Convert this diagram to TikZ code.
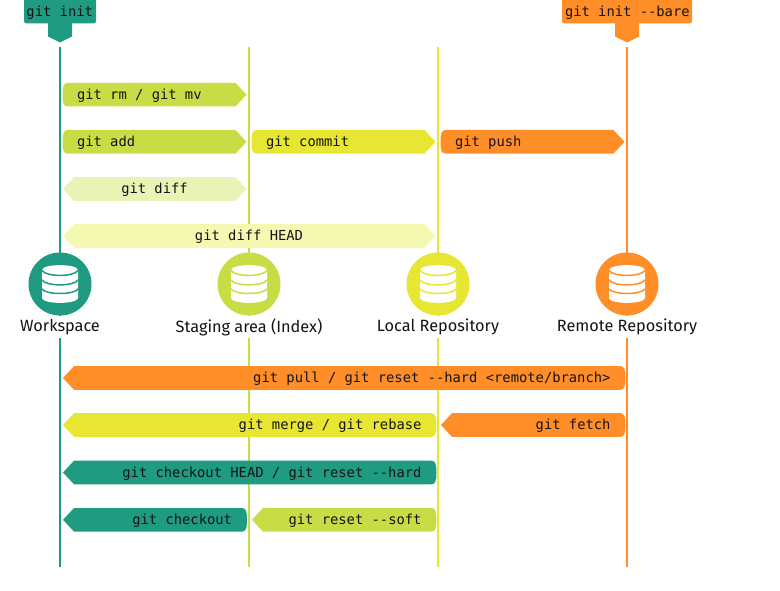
\documentclass[tikz,border=0pt]{standalone}
\usepackage{fontspec}
\setmainfont{Fira Sans}
\setmonofont{DejaVu Sans Mono}
\definecolor{cteal}{HTML}{1F9B82}
\definecolor{clime}{HTML}{C8DC45}
\definecolor{cyel}{HTML}{E6E633}
\definecolor{corg}{HTML}{FF8E29}
\definecolor{cpale}{HTML}{EAF3B6}
\definecolor{cpaler}{HTML}{F5F8B0}
\definecolor{ctxt}{HTML}{141414}
\tikzset{
  x=1pt,y=-1pt,
  lifeline/.style={line width=2.6pt},
  cmdtext/.style={font=\ttfamily\fontsize{13.8}{14}\selectfont,text=ctxt,inner sep=0pt,outer sep=0pt},
  storelabel/.style={font=\fontsize{16.3}{17}\selectfont,text=ctxt,fill=white,inner xsep=3pt,minimum height=22pt,inner ysep=0pt},
  storecircle/.style={circle,minimum size=63pt,inner sep=0pt},
}
% #1 left x, #2 right x, #3 centre y, #4 colour
\newcommand{\barRR}[4]{\fill[#4] (#1+5,#3-11.8) -- (#2-11,#3-11.8) -- (#2,#3) -- (#2-11,#3+11.8) -- (#1+5,#3+11.8) .. controls (#1+1,#3+11.8) and (#1,#3+8) .. (#1,#3) .. controls (#1,#3-8) and (#1+1,#3-11.8) .. (#1+5,#3-11.8) -- cycle;}
\newcommand{\barLL}[4]{\fill[#4] (#2-5,#3-11.8) -- (#1+11,#3-11.8) -- (#1,#3) -- (#1+11,#3+11.8) -- (#2-5,#3+11.8) .. controls (#2-1,#3+11.8) and (#2,#3+8) .. (#2,#3) .. controls (#2,#3-8) and (#2-1,#3-11.8) .. (#2-5,#3-11.8) -- cycle;}
\newcommand{\barBoth}[4]{\fill[#4] (#1+11,#3-11.8) -- (#2-11,#3-11.8) -- (#2,#3) -- (#2-11,#3+11.8) -- (#1+11,#3+11.8) -- (#1,#3) -- cycle;}
% database icon: #1 centre x, #2 centre y, #3 colour of the stripes
\newcommand{\dbicons}[3]{%
  \fill[white] (#1-18,#2-14) .. controls (#1-17,#2-20.5) and (#1+17,#2-20.5) .. (#1+18,#2-14) -- (#1+18,#2+14) .. controls (#1+17,#2+20.5) and (#1-17,#2+20.5) .. (#1-18,#2+14) -- cycle;
  \draw[#3,line width=1.5pt] (#1-18,#2-13.5) .. controls (#1-14,#2-7) and (#1+14,#2-7) .. (#1+18,#2-13.5);
  \draw[#3,line width=1.5pt] (#1-18,#2-4) .. controls (#1-14,#2+2.5) and (#1+14,#2+2.5) .. (#1+18,#2-4);
  \draw[#3,line width=1.5pt] (#1-18,#2+5) .. controls (#1-14,#2+11) and (#1+14,#2+11) .. (#1+18,#2+5);}
\begin{document}
\begin{tikzpicture}
\useasboundingbox (0,0) rectangle (780,591);
% lifelines
\coordinate (wt) at (60,47);  \coordinate (wb) at (60,567);
\coordinate (st) at (249,47); \coordinate (sb) at (249,567);
\coordinate (lt) at (438,47); \coordinate (lb) at (438,567);
\coordinate (rt) at (627,47); \coordinate (rb) at (627,567);
\draw[lifeline,cteal] (wt) -- (wb);
\draw[lifeline,clime] (st) -- (sb);
\draw[lifeline,cyel] (lt) -- (lb);
\draw[lifeline,corg] (rt) -- (rb);
% stores
\node[storecircle,fill=cteal] (wc) at (60,284) {};
\node[storecircle,fill=clime] (sc) at (249,284) {};
\node[storecircle,fill=cyel] (lc) at (438,284) {};
\node[storecircle,fill=corg] (rc) at (627,284) {};
\dbicons{60}{284}{cteal}
\dbicons{249}{284}{clime}
\dbicons{438}{284}{cyel}
\dbicons{627}{284}{corg}
\node[storelabel] (wl) at (60,327) {Workspace};
\node[storelabel] (sl) at (249,327) {Staging area (Index)};
\node[storelabel] (ll) at (438,327) {Local Repository};
\node[storelabel] (rl) at (627,327) {Remote Repository};
% init tags
\fill[cteal,rounded corners=2.5pt] (24,-3) rectangle (96,23.5);
\fill[cteal] (48,23) -- (72,23) -- (72,36.5) -- (60,42.5) -- (48,36.5) -- cycle;
\node[cmdtext,anchor=base west] (tinit) at (26.5,16.5) {git init};
\fill[corg,rounded corners=2.5pt] (562,-3) rectangle (692,23.5);
\fill[corg] (615,23) -- (639,23) -- (639,36.5) -- (627,42.5) -- (615,36.5) -- cycle;
\node[cmdtext,anchor=base west] (tbare) at (565,16.5) {git init --bare};
% upper bars
\barRR{62.5}{246.5}{94.7}{clime}
\node[cmdtext,anchor=base west] (a1) at (77,99.5) {git rm / git mv};
\barRR{62.5}{246.5}{141.8}{clime}
\node[cmdtext,anchor=base west] (a2) at (77,146.5) {git add};
\barRR{251.5}{435.5}{141.8}{cyel}
\node[cmdtext,anchor=base west] (a3) at (266,146.5) {git commit};
\barRR{440.5}{624.5}{141.8}{corg}
\node[cmdtext,anchor=base west] (a4) at (455,146.5) {git push};
\barBoth{63}{246.5}{189}{cpale}
\node[cmdtext,anchor=base] (a5) at (154.5,193.5) {git diff};
\barBoth{63}{435.5}{236}{cpaler}
\node[cmdtext,anchor=base] (a6) at (249,240.5) {git diff HEAD};
% lower bars
\barLL{63}{625.5}{378}{corg}
\node[cmdtext,anchor=base east] (b1) at (610.5,382.5) {git pull / git reset --hard <remote/branch>};
\barLL{63}{436.5}{425}{cyel}
\node[cmdtext,anchor=base east] (b2) at (421.5,429.5) {git merge / git rebase};
\barLL{441}{625.5}{425}{corg}
\node[cmdtext,anchor=base east] (b3) at (610.5,429.5) {git fetch};
\barLL{63}{436.5}{472.5}{cteal}
\node[cmdtext,anchor=base east] (b4) at (421.5,477) {git checkout HEAD / git reset --hard};
\barLL{63}{247}{519.8}{cteal}
\node[cmdtext,anchor=base east] (b5) at (232,524.3) {git checkout};
\barLL{252}{436.5}{519.8}{clime}
\node[cmdtext,anchor=base east] (b6) at (421.5,524.3) {git reset --soft};
\end{tikzpicture}
\end{document}
